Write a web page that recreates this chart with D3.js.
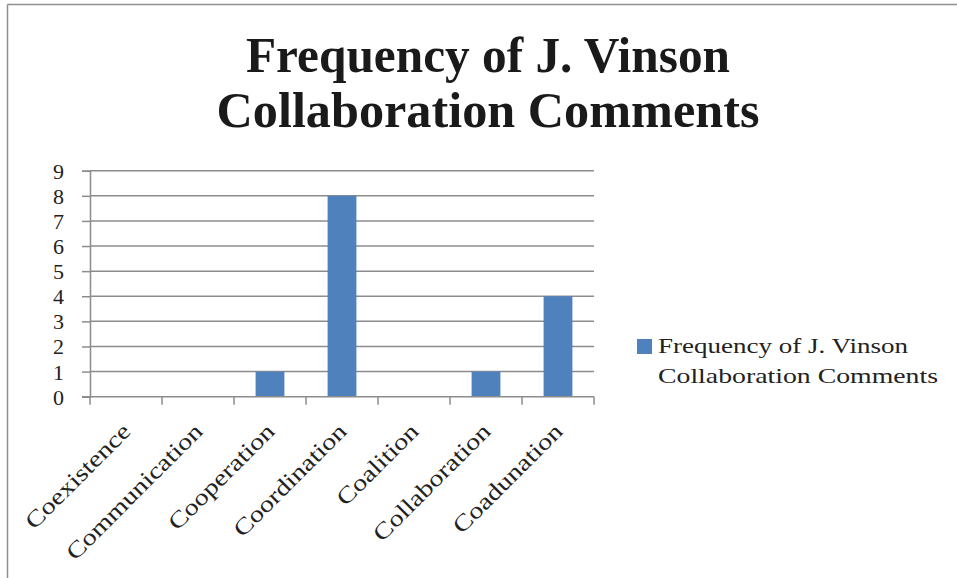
<!DOCTYPE html>
<html>
<head>
<meta charset="utf-8">
<script src="https://cdn.jsdelivr.net/npm/d3@7"></script>
<style>
	body { margin: 0; background: #fff; }
	svg { display: block; }
	text { font-family: "Liberation Serif", "DejaVu Serif", serif; fill: #222; }
</style>
</head>
<body>
<svg width="957" height="578"></svg>
<script>

// chart values
var categories = ["Coexistence", "Communication", "Cooperation", "Coordination", "Coalition", "Collaboration", "Coadunation"];
var frequency = [0, 0, 1, 8, 0, 1, 4];
var yTicks = [0, 1, 2, 3, 4, 5, 6, 7, 8, 9];
var titleLines = ["Frequency of J. Vinson", "Collaboration Comments"];
var legendLines = ["Frequency of J. Vinson", "Collaboration Comments"];

const svg = d3.select('svg');

//Frame of the chart area (only top and left edges are visible)
svg.append('line').attr('x1', 7.5).attr('y1', 4.5).attr('x2', 957).attr('y2', 4.5)
	.attr('stroke', '#8f8f8f').attr('stroke-width', 1.5);
svg.append('line').attr('x1', 7.5).attr('y1', 4.5).attr('x2', 7.5).attr('y2', 578)
	.attr('stroke', '#8f8f8f').attr('stroke-width', 1.5);

//Title
const titleWidths = [484, 543];
svg.selectAll('.title')
	.data(titleLines)
	.enter().append('text')
	.attr('class', 'title')
	.attr('x', 488)
	.attr('y', (d, i) => 72 + i * 54.5)
	.attr('text-anchor', 'middle')
	.attr('textLength', (d, i) => titleWidths[i])
	.attr('lengthAdjust', 'spacingAndGlyphs')
	.style('font-size', '50px')
	.style('font-weight', 'bold')
	.style('fill', '#1a1a1a')
	.text(d => d);

//Scales
const plotLeft = 90, plotRight = 594, plotTop = 170.7, plotBottom = 396.7;

const x = d3.scaleBand()
	.domain(categories)
	.range([plotLeft, plotRight])
	.paddingInner(0.6)
	.paddingOuter(0.3);

const xTick = d3.scaleBand().domain(categories).range([plotLeft, plotRight]);

const y = d3.scaleLinear()
	.domain([0, 9])
	.range([plotBottom, plotTop]);

//Gridlines
svg.append('g')
	.selectAll('line')
	.data(yTicks.filter(d => d > 0))
	.enter().append('line')
	.attr('x1', plotLeft)
	.attr('x2', plotRight)
	.attr('y1', d => y(d))
	.attr('y2', d => y(d))
	.attr('stroke', '#8c8c8c')
	.attr('stroke-width', 1.5);

//Bars
svg.append('g')
	.selectAll('rect')
	.data(frequency)
	.enter().append('rect')
	.attr('x', (d, i) => x(categories[i]))
	.attr('width', x.bandwidth())
	.attr('y', d => y(d))
	.attr('height', d => y(0) - y(d))
	.attr('fill', '#4f81bd');

//Y axis
const yAxis = svg.append('g')
	.attr('transform', 'translate(' + plotLeft + ',0)')
	.call(d3.axisLeft(y).tickValues(yTicks).tickSize(8).tickPadding(18));
yAxis.select('.domain').attr('stroke', '#8c8c8c').attr('stroke-width', 1.5);
yAxis.selectAll('.tick line').attr('stroke', '#8c8c8c').attr('stroke-width', 1.5);
yAxis.selectAll('.tick text')
	.style('font-family', '"Liberation Serif", serif')
	.style('font-size', '22px')
	.attr('fill', '#222')
	.attr('dy', '0.34em');

//X axis
const xAxis = svg.append('g')
	.attr('transform', 'translate(0,' + plotBottom + ')');
xAxis.append('line')
	.attr('x1', plotLeft - 8).attr('x2', plotRight)
	.attr('stroke', '#8c8c8c').attr('stroke-width', 1.5);
xAxis.selectAll('.xtick')
	.data(categories.concat(['end']))
	.enter().append('line')
	.attr('x1', (d, i) => plotLeft + i * xTick.bandwidth())
	.attr('x2', (d, i) => plotLeft + i * xTick.bandwidth())
	.attr('y1', 0).attr('y2', 8)
	.attr('stroke', '#8c8c8c').attr('stroke-width', 1.5);
xAxis.selectAll('.xlabel')
	.data(categories)
	.enter().append('text')
	.attr('text-anchor', 'end')
	.attr('transform', d => 'translate(' + (xTick(d) + xTick.bandwidth() / 2 + 6) + ',36) rotate(-45) scale(1.23,1)')
	.style('font-size', '23px')
	.text(d => d);

//Legend
svg.append('rect')
	.attr('x', 637).attr('y', 339)
	.attr('width', 15).attr('height', 15)
	.attr('fill', '#4f81bd');
const legendWidths = [250, 280];
svg.selectAll('.legend')
	.data(legendLines)
	.enter().append('text')
	.attr('class', 'legend')
	.attr('x', 658)
	.attr('y', (d, i) => 353 + i * 30)
	.attr('textLength', (d, i) => legendWidths[i])
	.attr('lengthAdjust', 'spacingAndGlyphs')
	.style('font-size', '22px')
	.text(d => d);

</script>
</body>
</html>
